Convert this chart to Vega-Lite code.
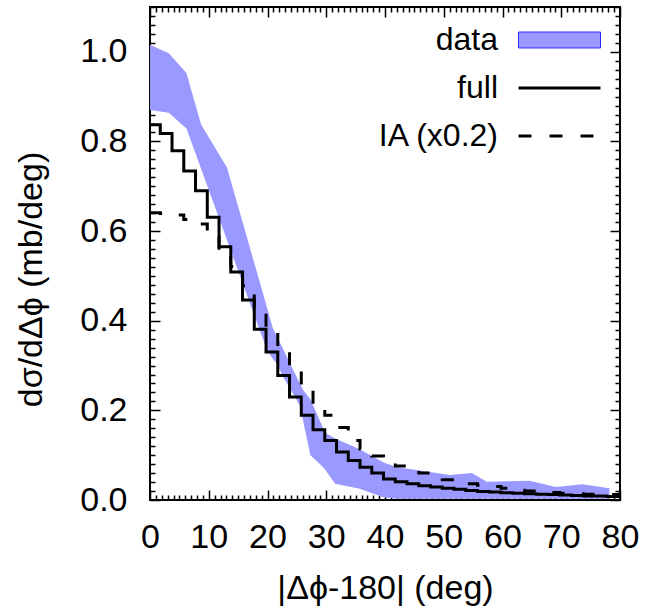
{
  "$schema": "https://vega.github.io/schema/vega-lite/v6.json",
  "width": 470,
  "height": 493,
  "autosize": {"type": "none"},
  "padding": {"left": 150, "top": 7, "right": 27, "bottom": 111},
  "background": "white",
  "config": {
    "view": {"stroke": "black", "strokeWidth": 2},
    "font": "Liberation Sans",
    "legend": {
      "orient": "none", "title": null, "padding": 0,
      "labelFont": "Liberation Sans", "labelFontSize": 32, "labelColor": "black",
      "labelAlign": "right", "labelBaseline": "middle", "labelLimit": 400,
      "symbolSize": 6724
    }
  },
  "datasets": {
    "band": [
      {"x": 0, "lo": 0.870, "hi": 1.016, "series": "data"},
      {"x": 3.2, "lo": 0.864, "hi": 0.997, "series": "data"},
      {"x": 6.2, "lo": 0.829, "hi": 0.953, "series": "data"},
      {"x": 8.7, "lo": 0.739, "hi": 0.838, "series": "data"},
      {"x": 13.1, "lo": 0.580, "hi": 0.742, "series": "data"},
      {"x": 16, "lo": 0.475, "hi": 0.609, "series": "data"},
      {"x": 19.9, "lo": 0.335, "hi": 0.430, "series": "data"},
      {"x": 20.9, "lo": 0.315, "hi": 0.384, "series": "data"},
      {"x": 21.6, "lo": 0.304, "hi": 0.365, "series": "data"},
      {"x": 22.7, "lo": 0.274, "hi": 0.336, "series": "data"},
      {"x": 24, "lo": 0.245, "hi": 0.300, "series": "data"},
      {"x": 25.5, "lo": 0.211, "hi": 0.260, "series": "data"},
      {"x": 26.1, "lo": 0.174, "hi": 0.245, "series": "data"},
      {"x": 27.3, "lo": 0.100, "hi": 0.225, "series": "data"},
      {"x": 29.1, "lo": 0.078, "hi": 0.171, "series": "data"},
      {"x": 29.8, "lo": 0.068, "hi": 0.150, "series": "data"},
      {"x": 31.5, "lo": 0.036, "hi": 0.137, "series": "data"},
      {"x": 35.7, "lo": 0.025, "hi": 0.113, "series": "data"},
      {"x": 39.7, "lo": 0.006, "hi": 0.084, "series": "data"},
      {"x": 42, "lo": 0.003, "hi": 0.073, "series": "data"},
      {"x": 46, "lo": 0.003, "hi": 0.066, "series": "data"},
      {"x": 51, "lo": 0.003, "hi": 0.056, "series": "data"},
      {"x": 54.8, "lo": 0.003, "hi": 0.060, "series": "data"},
      {"x": 57.3, "lo": 0.003, "hi": 0.041, "series": "data"},
      {"x": 64.6, "lo": 0.003, "hi": 0.043, "series": "data"},
      {"x": 69.1, "lo": 0.003, "hi": 0.029, "series": "data"},
      {"x": 73.6, "lo": 0.003, "hi": 0.035, "series": "data"},
      {"x": 78.2, "lo": 0.003, "hi": 0.026, "series": "data"}
    ],
    "full": [
      {"x": 0, "y": 0.837, "series": "full"},
      {"x": 1.75, "y": 0.818, "series": "full"},
      {"x": 3.75, "y": 0.779, "series": "full"},
      {"x": 5.75, "y": 0.734, "series": "full"},
      {"x": 7.75, "y": 0.690, "series": "full"},
      {"x": 9.75, "y": 0.631, "series": "full"},
      {"x": 11.75, "y": 0.565, "series": "full"},
      {"x": 13.75, "y": 0.509, "series": "full"},
      {"x": 15.75, "y": 0.446, "series": "full"},
      {"x": 17.75, "y": 0.381, "series": "full"},
      {"x": 19.75, "y": 0.330, "series": "full"},
      {"x": 21.75, "y": 0.278, "series": "full"},
      {"x": 23.75, "y": 0.230, "series": "full"},
      {"x": 25.75, "y": 0.189, "series": "full"},
      {"x": 27.75, "y": 0.157, "series": "full"},
      {"x": 29.75, "y": 0.133, "series": "full"},
      {"x": 31.75, "y": 0.107, "series": "full"},
      {"x": 33.75, "y": 0.088, "series": "full"},
      {"x": 35.75, "y": 0.073, "series": "full"},
      {"x": 37.75, "y": 0.060, "series": "full"},
      {"x": 39.75, "y": 0.047, "series": "full"},
      {"x": 41.75, "y": 0.041, "series": "full"},
      {"x": 43.75, "y": 0.036, "series": "full"},
      {"x": 45.75, "y": 0.032, "series": "full"},
      {"x": 47.75, "y": 0.029, "series": "full"},
      {"x": 49.75, "y": 0.026, "series": "full"},
      {"x": 51.75, "y": 0.024, "series": "full"},
      {"x": 53.75, "y": 0.021, "series": "full"},
      {"x": 55.75, "y": 0.019, "series": "full"},
      {"x": 57.75, "y": 0.018, "series": "full"},
      {"x": 59.75, "y": 0.016, "series": "full"},
      {"x": 61.75, "y": 0.015, "series": "full"},
      {"x": 63.75, "y": 0.014, "series": "full"},
      {"x": 65.75, "y": 0.013, "series": "full"},
      {"x": 67.75, "y": 0.012, "series": "full"},
      {"x": 69.75, "y": 0.011, "series": "full"},
      {"x": 71.75, "y": 0.010, "series": "full"},
      {"x": 73.75, "y": 0.009, "series": "full"},
      {"x": 75.75, "y": 0.009, "series": "full"},
      {"x": 77.75, "y": 0.008, "series": "full"},
      {"x": 79.75, "y": 0.008, "series": "full"},
      {"x": 80, "y": 0.008, "series": "full"}
    ],
    "ia": [
      {"x": 0, "y": 0.641, "series": "IA (x0.2)"},
      {"x": 1.75, "y": 0.639, "series": "IA (x0.2)"},
      {"x": 3.75, "y": 0.636, "series": "IA (x0.2)"},
      {"x": 5.75, "y": 0.626, "series": "IA (x0.2)"},
      {"x": 7.75, "y": 0.616, "series": "IA (x0.2)"},
      {"x": 9.75, "y": 0.587, "series": "IA (x0.2)"},
      {"x": 11.75, "y": 0.556, "series": "IA (x0.2)"},
      {"x": 13.75, "y": 0.521, "series": "IA (x0.2)"},
      {"x": 15.75, "y": 0.478, "series": "IA (x0.2)"},
      {"x": 17.75, "y": 0.427, "series": "IA (x0.2)"},
      {"x": 19.75, "y": 0.386, "series": "IA (x0.2)"},
      {"x": 21.75, "y": 0.336, "series": "IA (x0.2)"},
      {"x": 23.75, "y": 0.296, "series": "IA (x0.2)"},
      {"x": 25.75, "y": 0.255, "series": "IA (x0.2)"},
      {"x": 27.75, "y": 0.213, "series": "IA (x0.2)"},
      {"x": 29.75, "y": 0.189, "series": "IA (x0.2)"},
      {"x": 31.75, "y": 0.162, "series": "IA (x0.2)"},
      {"x": 33.75, "y": 0.133, "series": "IA (x0.2)"},
      {"x": 35.75, "y": 0.114, "series": "IA (x0.2)"},
      {"x": 37.75, "y": 0.098, "series": "IA (x0.2)"},
      {"x": 39.75, "y": 0.085, "series": "IA (x0.2)"},
      {"x": 41.75, "y": 0.076, "series": "IA (x0.2)"},
      {"x": 43.75, "y": 0.068, "series": "IA (x0.2)"},
      {"x": 45.75, "y": 0.060, "series": "IA (x0.2)"},
      {"x": 47.75, "y": 0.050, "series": "IA (x0.2)"},
      {"x": 49.75, "y": 0.045, "series": "IA (x0.2)"},
      {"x": 51.75, "y": 0.040, "series": "IA (x0.2)"},
      {"x": 53.75, "y": 0.036, "series": "IA (x0.2)"},
      {"x": 55.75, "y": 0.033, "series": "IA (x0.2)"},
      {"x": 57.75, "y": 0.030, "series": "IA (x0.2)"},
      {"x": 59.75, "y": 0.026, "series": "IA (x0.2)"},
      {"x": 61.75, "y": 0.022, "series": "IA (x0.2)"},
      {"x": 63.75, "y": 0.020, "series": "IA (x0.2)"},
      {"x": 65.75, "y": 0.018, "series": "IA (x0.2)"},
      {"x": 67.75, "y": 0.017, "series": "IA (x0.2)"},
      {"x": 69.75, "y": 0.015, "series": "IA (x0.2)"},
      {"x": 71.75, "y": 0.014, "series": "IA (x0.2)"},
      {"x": 73.75, "y": 0.013, "series": "IA (x0.2)"},
      {"x": 75.75, "y": 0.012, "series": "IA (x0.2)"},
      {"x": 77.75, "y": 0.012, "series": "IA (x0.2)"},
      {"x": 79.75, "y": 0.011, "series": "IA (x0.2)"},
      {"x": 80, "y": 0.011, "series": "IA (x0.2)"}
    ]
  },
  "resolve": {"axis": {"x": "independent", "y": "independent"}},
  "layer": [
    {
      "data": {"name": "band"},
      "mark": {"type": "area", "clip": true, "opacity": 1, "interpolate": "linear"},
      "encoding": {
        "x": {
          "field": "x", "type": "quantitative",
          "scale": {"domain": [0, 80], "nice": false, "zero": false},
          "axis": {
            "orient": "bottom",
            "values": [0,1,2,3,4,5,6,7,8,9,10,11,12,13,14,15,16,17,18,19,20,21,22,23,24,25,26,27,28,29,30,31,32,33,34,35,36,37,38,39,40,41,42,43,44,45,46,47,48,49,50,51,52,53,54,55,56,57,58,59,60,61,62,63,64,65,66,67,68,69,70,71,72,73,74,75,76,77,78,79,80],
            "domain": false, "grid": false,
            "tickColor": "black", "tickWidth": 1.5,
            "tickSize": {"condition": {"test": "datum.value % 10 === 0", "value": -10}, "value": -5},
            "labelExpr": "datum.value % 10 === 0 ? datum.label : ''",
            "labelFont": "Liberation Sans", "labelFontSize": 34, "labelColor": "black",
            "labelPadding": 30, "labelAngle": 0, "labelOverlap": false, "labelFlush": false, "labelBound": false,
            "title": "|Δϕ-180| (deg)",
            "titleFont": "Liberation Sans", "titleFontSize": 34, "titleFontWeight": "normal", "titleColor": "black",
            "titleBaseline": "middle", "titleY": 88
          }
        },
        "y": {
          "field": "lo", "type": "quantitative",
          "scale": {"domain": [0, 1.1], "nice": false, "zero": false},
          "axis": {
            "orient": "left",
            "values": [0,0.02,0.04,0.06,0.08,0.1,0.12,0.14,0.16,0.18,0.2,0.22,0.24,0.26,0.28,0.3,0.32,0.34,0.36,0.38,0.4,0.42,0.44,0.46,0.48,0.5,0.52,0.54,0.56,0.58,0.6,0.62,0.64,0.66,0.68,0.7,0.72,0.74,0.76,0.78,0.8,0.82,0.84,0.86,0.88,0.9,0.92,0.94,0.96,0.98,1,1.02,1.04,1.06,1.08,1.1],
            "format": ".1f",
            "domain": false, "grid": false,
            "tickColor": "black", "tickWidth": 1.5,
            "tickSize": {"condition": {"test": "abs(datum.value*5 - round(datum.value*5)) < 0.001", "value": -10}, "value": -5},
            "labelExpr": "abs(datum.value*5 - round(datum.value*5)) < 0.001 ? datum.label : ''",
            "labelFont": "Liberation Sans", "labelFontSize": 34, "labelColor": "black",
            "labelPadding": 33, "labelOverlap": false, "labelFlush": false, "labelBound": false,
            "title": "dσ/dΔϕ (mb/deg)",
            "titleFont": "Liberation Sans", "titleFontSize": 34, "titleFontWeight": "normal", "titleColor": "black",
            "titleBaseline": "middle", "titleX": -119, "titleY": 272
          }
        },
        "y2": {"field": "hi"},
        "fill": {
          "field": "series", "type": "nominal",
          "scale": {"domain": ["data"], "range": ["#9999ff"]},
          "legend": {
            "legendX": 368, "legendY": -8.5,
            "symbolType": "M-1,-0.195H1V0.195H-1Z",
            "symbolStrokeColor": "#2a2aff", "symbolStrokeWidth": 1,
            "labelOffset": -103
          }
        }
      }
    },
    {
      "data": {"name": "full"},
      "mark": {"type": "line", "clip": true, "interpolate": "step-after", "strokeWidth": 3, "strokeJoin": "miter", "strokeCap": "butt"},
      "encoding": {
        "x": {
          "field": "x", "type": "quantitative",
          "scale": {"domain": [0, 80], "nice": false, "zero": false},
          "axis": {
            "orient": "top",
            "values": [0,1,2,3,4,5,6,7,8,9,10,11,12,13,14,15,16,17,18,19,20,21,22,23,24,25,26,27,28,29,30,31,32,33,34,35,36,37,38,39,40,41,42,43,44,45,46,47,48,49,50,51,52,53,54,55,56,57,58,59,60,61,62,63,64,65,66,67,68,69,70,71,72,73,74,75,76,77,78,79,80],
            "domain": false, "grid": false, "labels": false, "title": null,
            "tickColor": "black", "tickWidth": 1.5,
            "tickSize": {"condition": {"test": "datum.value % 10 === 0", "value": -10}, "value": -5}
          }
        },
        "y": {
          "field": "y", "type": "quantitative",
          "scale": {"domain": [0, 1.1], "nice": false, "zero": false},
          "axis": {
            "orient": "right",
            "values": [0,0.02,0.04,0.06,0.08,0.1,0.12,0.14,0.16,0.18,0.2,0.22,0.24,0.26,0.28,0.3,0.32,0.34,0.36,0.38,0.4,0.42,0.44,0.46,0.48,0.5,0.52,0.54,0.56,0.58,0.6,0.62,0.64,0.66,0.68,0.7,0.72,0.74,0.76,0.78,0.8,0.82,0.84,0.86,0.88,0.9,0.92,0.94,0.96,0.98,1,1.02,1.04,1.06,1.08,1.1],
            "domain": false, "grid": false, "labels": false, "title": null,
            "tickColor": "black", "tickWidth": 1.5,
            "tickSize": {"condition": {"test": "abs(datum.value*5 - round(datum.value*5)) < 0.001", "value": -10}, "value": -5}
          }
        },
        "stroke": {
          "field": "series", "type": "nominal",
          "scale": {"domain": ["full"], "range": ["#000000"]},
          "legend": {
            "legendX": 367, "legendY": 38.5,
            "symbolType": "stroke", "symbolStrokeWidth": 3,
            "labelOffset": -104
          }
        }
      }
    },
    {
      "data": {"name": "ia"},
      "mark": {"type": "line", "clip": true, "color": "#000000", "interpolate": "step-after", "strokeWidth": 3, "strokeJoin": "miter", "strokeCap": "butt"},
      "encoding": {
        "x": {"field": "x", "type": "quantitative", "scale": {"domain": [0, 80], "nice": false, "zero": false}, "axis": null},
        "y": {"field": "y", "type": "quantitative", "scale": {"domain": [0, 1.1], "nice": false, "zero": false}, "axis": null},
        "strokeDash": {
          "field": "series", "type": "nominal",
          "scale": {"domain": ["IA (x0.2)"], "range": [[13, 18]]},
          "legend": {
            "legendX": 367, "legendY": 86.5,
            "symbolType": "stroke", "symbolStrokeWidth": 3, "symbolStrokeColor": "#000000",
            "labelOffset": -104
          }
        }
      }
    }
  ]
}
